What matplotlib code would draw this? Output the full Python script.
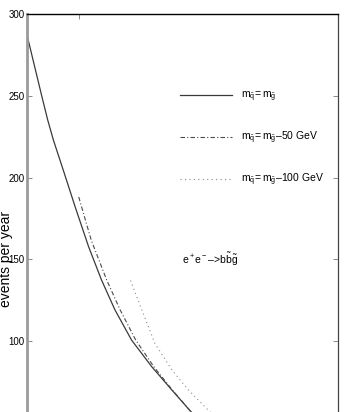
import matplotlib
matplotlib.use("Agg")
import matplotlib.pyplot as plt

plt.rcParams['font.family'] = ['Liberation Sans Narrow', 'Liberation Sans', 'DejaVu Sans']
plt.rcParams['mathtext.fontset'] = 'custom'
plt.rcParams['mathtext.rm'] = 'Liberation Sans'
plt.rcParams['mathtext.it'] = 'Liberation Sans'

# curves (x in GeV, events per year)
x_equal = [180.0, 182.9, 184.0, 185.1, 187.0, 189.3, 191.9, 194.4, 197.0, 200.2, 204.1, 208.0, 211.5, 212.5]
y_equal = [287.2, 249.2, 235.2, 222.9, 204.6, 182.1, 157.7, 137.3, 119.0, 100.6, 84.3, 70.0, 57.4, 54.1]

x_50 = [190.0, 192.4, 195.4, 198.0, 201.0, 204.5, 208.1, 211.5, 212.5]
y_50 = [188.1, 161.8, 137.3, 119.0, 100.6, 84.3, 70.0, 57.4, 54.1]

x_100 = [200.0, 202.2, 204.7, 208.0, 211.2, 215.0, 215.9]
y_100 = [137.0, 119.0, 98.6, 82.3, 70.0, 57.8, 54.8]

labels = [r'$\mathregular{m_{\tilde{q}}\!= m_{\tilde{g}}}$',
          r'$\mathregular{m_{\tilde{q}}\!= m_{\tilde{g}}}$–50 GeV',
          r'$\mathregular{m_{\tilde{q}}\!= m_{\tilde{g}}}$–100 GeV']

fig = plt.figure(figsize=(3.47, 4.12), dpi=100)
# axes run past the lower edge of the picture (the original is cropped)
ax = fig.add_axes([27 / 347, 1 - 504.5 / 412, 310.5 / 347, 490.5 / 412])

ax.plot(x_equal, y_equal, color='#3a3a3a', lw=0.9, ls='-', label=labels[0])
ax.plot(x_50, y_50, color='#4a4a4a', lw=0.8, ls=(0, (4, 2, 1, 2)), label=labels[1])
ax.plot(x_100, y_100, color='#8a8a8a', lw=0.8, ls=(0, (1, 3)), label=labels[2])

ax.text(210, 150, r'$\mathregular{e^+e^-}$–>$\mathregular{b\tilde{b}\tilde{g}}$',
        fontsize=7.5, ha='left', va='center')

ax.set_xlim(180, 240)
ax.set_ylim(0, 300)
ax.set_xticks([190])
ax.set_yticks([100, 150, 200, 250, 300])
ax.tick_params(direction='in', length=3.5, width=0.6, color='#777777',
               top=True, right=True, labelbottom=False, labelsize=7, pad=1.5)
ax.set_ylabel('events per year', family='Liberation Sans', fontsize=10)
ax.yaxis.set_label_coords(-0.045, 0.5)

ax.spines['left'].set_color('#9a9a9a')
ax.spines['left'].set_linewidth(2)
ax.spines['top'].set_color('black')
ax.spines['top'].set_linewidth(1)
ax.spines['right'].set_color('#444444')
ax.spines['right'].set_linewidth(0.9)

ax.legend(loc='upper left', bbox_to_anchor=(0.48, 0.854), frameon=False, fontsize=7.5,
          handlelength=5.0, handletextpad=0.8, labelspacing=2.45, borderaxespad=0)

fig.savefig('out.png', dpi=100)
